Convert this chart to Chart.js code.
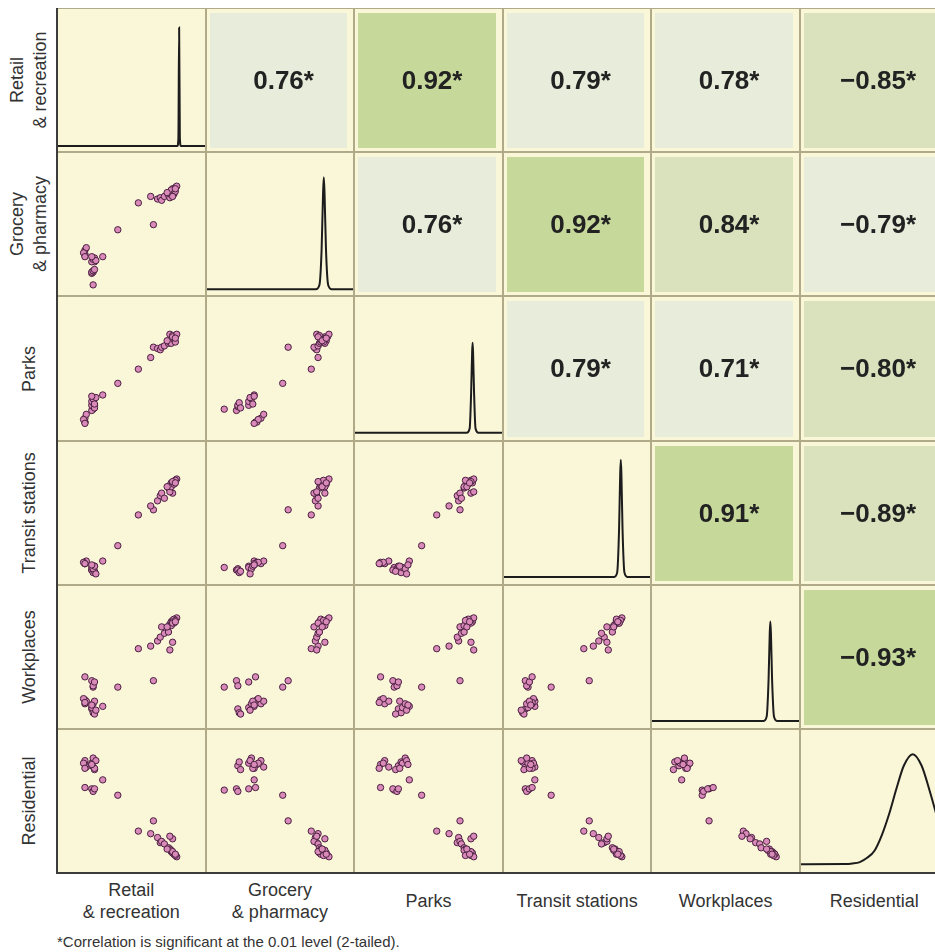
<!DOCTYPE html>
<html>
<head>
<meta charset="utf-8">
<script src="https://cdn.jsdelivr.net/npm/chart.js@4.4.0/dist/chart.umd.min.js"></script>
<style>
  body { margin: 0; background: #fff; overflow: hidden; font-family: "Liberation Sans", Arial, sans-serif; color: #333; }
  #page { position: relative; width: 935px; height: 952px; overflow: hidden; }
  #matrix { position: absolute; left: 57px; top: 8px; width: 892px; height: 866px; }
  .cell { position: absolute; box-sizing: border-box; border: 1px solid #b0aa88; background: #faf6d8; }
  .cell canvas { display: block; }
  .ylab { position: absolute; white-space: pre; text-align: center; font-size: 18px; line-height: 23px;
          transform: translate(-50%, -50%) rotate(-90deg); }
  .xlab { position: absolute; white-space: pre; text-align: center; font-size: 18px; line-height: 22px;
          transform: translate(-50%, -50%); }
  #note { position: absolute; left: 57px; top: 933px; font-size: 15px; }
</style>
</head>
<body>
<div id="page">
  <div id="matrix"></div>
  <div id="note">*Correlation is significant at the 0.01 level (2-tailed).</div>
</div>
<script>
// --- DATA ---
const varLabels = ['Retail\n& recreation', 'Grocery\n& pharmacy', 'Parks', 'Transit stations', 'Workplaces', 'Residential'];

// one value per region, same order in every list (scaled 0..1 within a panel)
const retail      = [0.29,0.40,0.55,0.66,0.64, 0.22,0.21,0.22,0.23,0.16, 0.16,0.16,0.17,0.15,0.16,
                     0.21,0.22,0.23,0.21,0.22,0.23,0.24,0.21,
                     0.69,0.71,0.72,0.74,0.77,0.80,0.78,0.78,0.79,0.80,0.81,0.82,0.80,0.83,0.79,0.81,0.82,0.80,0.76,0.82];
const grocery     = [0.31,0.52,0.73,0.56,0.78, 0.09,0.18,0.19,0.27,0.32, 0.33,0.36,0.38,0.34,0.31,
                     0.19,0.20,0.21,0.27,0.29,0.30,0.28,0.31,
                     0.76,0.77,0.75,0.78,0.79,0.83,0.77,0.80,0.82,0.84,0.81,0.85,0.79,0.86,0.83,0.80,0.82,0.78,0.81,0.84];
const parks       = [0.36,0.45,0.56,0.73,0.65, 0.25,0.24,0.27,0.28,0.15, 0.15,0.18,0.21,0.17,0.14,
                     0.28,0.30,0.26,0.31,0.33,0.29,0.34,0.35,
                     0.72,0.71,0.73,0.74,0.76,0.81,0.83,0.77,0.79,0.78,0.80,0.81,0.82,0.83,0.76,0.79,0.77,0.81,0.78,0.80];
const transit     = [0.19,0.31,0.55,0.59,0.62, 0.14,0.12,0.13,0.15,0.17, 0.18,0.17,0.19,0.18,0.17,
                     0.12,0.10,0.11,0.14,0.13,0.15,0.09,0.16,
                     0.66,0.70,0.72,0.68,0.76,0.72,0.73,0.78,0.80,0.79,0.81,0.82,0.80,0.83,0.77,0.79,0.82,0.81,0.77,0.80];
const workplaces  = [0.18,0.33,0.63,0.38,0.65, 0.33,0.38,0.34,0.37,0.41, 0.23,0.20,0.22,0.24,0.21,
                     0.16,0.13,0.12,0.17,0.20,0.22,0.15,0.19,
                     0.69,0.72,0.80,0.75,0.76,0.68,0.62,0.82,0.84,0.85,0.83,0.86,0.84,0.87,0.81,0.86,0.85,0.83,0.80,0.84];
const residential = [0.73,0.61,0.33,0.41,0.31, 0.65,0.66,0.64,0.66,0.67, 0.85,0.88,0.83,0.86,0.82,
                     0.84,0.87,0.81,0.86,0.90,0.82,0.88,0.85,
                     0.28,0.24,0.25,0.23,0.20,0.27,0.29,0.19,0.17,0.16,0.15,0.14,0.16,0.13,0.18,0.15,0.14,0.17,0.19,0.15];

// density curves on the diagonal (x, height)
const retailDensX = [0, 0.812, 0.819, 0.824, 0.829, 0.836, 1];
const retailDensY = [0.035, 0.035, 0.09, 0.87, 0.09, 0.035, 0.035];
const groceryDensX = [0, 0.745, 0.77, 0.785, 0.795, 0.80, 0.805, 0.815, 0.83, 0.855, 1];
const groceryDensY = [0.04, 0.04, 0.07, 0.32, 0.72, 0.83, 0.72, 0.32, 0.07, 0.04, 0.04];
const parksDensX = [0, 0.76, 0.78, 0.79, 0.797, 0.80, 0.803, 0.81, 0.82, 0.84, 1];
const parksDensY = [0.05, 0.05, 0.08, 0.33, 0.62, 0.68, 0.62, 0.33, 0.08, 0.05, 0.05];
const transitDensX = [0, 0.755, 0.775, 0.788, 0.796, 0.80, 0.804, 0.812, 0.825, 0.845, 1];
const transitDensY = [0.05, 0.05, 0.08, 0.38, 0.78, 0.875, 0.78, 0.38, 0.08, 0.05, 0.05];
const workDensX = [0, 0.76, 0.78, 0.793, 0.801, 0.805, 0.809, 0.817, 0.83, 0.85, 1];
const workDensY = [0.05, 0.05, 0.08, 0.34, 0.67, 0.75, 0.67, 0.34, 0.08, 0.05, 0.05];
const resDensX = [0, 0.30, 0.35, 0.40, 0.45, 0.50, 0.55, 0.60, 0.65, 0.70, 0.76, 0.82, 0.88, 0.94, 1];
const resDensY = [0.055, 0.056, 0.06, 0.07, 0.10, 0.15, 0.26, 0.41, 0.59, 0.75, 0.83, 0.75, 0.555, 0.34, 0.19];

// upper triangle: Pearson r
const corrRows = [
  [null, 0.76, 0.92, 0.79, 0.78, -0.85],
  [null, null, 0.76, 0.92, 0.84, -0.79],
  [null, null, null, 0.79, 0.71, -0.80],
  [null, null, null, null, 0.91, -0.89],
  [null, null, null, null, null, -0.93]
];

const variables = [retail, grocery, parks, transit, workplaces, residential];
const densities = [
  [retailDensX, retailDensY], [groceryDensX, groceryDensY], [parksDensX, parksDensY],
  [transitDensX, transitDensY], [workDensX, workDensY], [resDensX, resDensY]
];

// --- LAYOUT ---
const LEFT = 57, TOP = 8, CELL_W = 148.6, CELL_H = 144.2;
const FONT = '"Liberation Sans", Arial, sans-serif';

Chart.defaults.animation = false;
Chart.defaults.responsive = false;
Chart.defaults.devicePixelRatio = 1;
Chart.defaults.events = [];
Chart.defaults.plugins.legend.display = false;
Chart.defaults.plugins.tooltip.enabled = false;

function corrColor(v) {
  const a = Math.abs(v);
  if (a >= 0.9) return '#c6d99b';
  if (a >= 0.8) return '#d9e2bd';
  return '#e8ecda';
}

const corrText = {
  id: 'corrText',
  afterDatasetsDraw(chart, args, opts) {
    const { ctx, chartArea } = chart;
    const cx = (chartArea.left + chartArea.right) / 2;
    const cy = (chartArea.top + chartArea.bottom) / 2 + 1;
    ctx.save();
    ctx.font = 'bold 26px ' + FONT;
    ctx.fillStyle = '#222';
    ctx.textBaseline = 'middle';
    ctx.textAlign = 'left';
    const w = ctx.measureText(opts.text).width;
    ctx.fillText(opts.text, cx - w / 2, cy);
    ctx.fillText('*', cx + w / 2, cy);
    ctx.restore();
  }
};

const matrix = document.getElementById('matrix');
const page = document.getElementById('page');

for (let r = 0; r < 6; r++) {
  for (let c = 0; c < 6; c++) {
    const x0 = Math.round(c * CELL_W), x1 = Math.round((c + 1) * CELL_W);
    const y0 = Math.round(r * CELL_H), y1 = Math.round((r + 1) * CELL_H);
    const div = document.createElement('div');
    div.className = 'cell';
    div.style.left = x0 + 'px';
    div.style.top = y0 + 'px';
    div.style.width = (x1 - x0) + 'px';
    div.style.height = (y1 - y0) + 'px';
    const canvas = document.createElement('canvas');
    canvas.width = x1 - x0 - 2;
    canvas.height = y1 - y0 - 2;
    div.appendChild(canvas);
    matrix.appendChild(div);

    if (r > c) {
      // scatter: x = column variable, y = row variable
      const xs = variables[c], ys = variables[r];
      new Chart(canvas, {
        type: 'scatter',
        data: { datasets: [{
          data: xs.map((v, i) => ({ x: v, y: ys[i] })),
          backgroundColor: '#d98ab9',
          borderColor: '#4a2040',
          borderWidth: 1,
          pointRadius: 3.2
        }]},
        options: {
          layout: { padding: 0 },
          scales: {
            x: { type: 'linear', min: 0, max: 1, display: false },
            y: { type: 'linear', min: 0.05, max: 1.08, display: false }
          }
        }
      });
    } else if (r === c) {
      const [dx, dy] = densities[r];
      new Chart(canvas, {
        type: 'line',
        data: { datasets: [{
          data: dx.map((v, i) => ({ x: v, y: dy[i] })),
          borderColor: '#1c1c1c',
          borderWidth: 2,
          pointRadius: 0,
          fill: false,
          cubicInterpolationMode: 'monotone'
        }]},
        options: {
          layout: { padding: 0 },
          scales: {
            x: { type: 'linear', min: 0, max: 1, display: false },
            y: { min: 0, max: 1, display: false }
          }
        }
      });
    } else {
      const v = corrRows[r][c];
      new Chart(canvas, {
        type: 'bar',
        data: { labels: ['r'], datasets: [{
          data: [1],
          backgroundColor: corrColor(v),
          barPercentage: 1,
          categoryPercentage: 1
        }]},
        options: {
          layout: { padding: { left: 3, right: 6, top: 4, bottom: 3 } },
          scales: {
            x: { display: false },
            y: { min: 0, max: 1, display: false }
          },
          plugins: { corrText: { text: (v < 0 ? '\u2212' : '') + Math.abs(v).toFixed(2) } }
        },
        plugins: [corrText]
      });
    }
  }
}

// dark axis lines on the left and bottom of the matrix
const leftLine = document.createElement('div');
leftLine.style.cssText = 'position:absolute;left:56px;top:8px;width:2px;height:866px;background:#3c3c3c';
page.appendChild(leftLine);
const bottomLine = document.createElement('div');
bottomLine.style.cssText = 'position:absolute;left:56px;top:872px;width:900px;height:2px;background:#3c3c3c';
page.appendChild(bottomLine);

// variable labels
varLabels.forEach((lab, i) => {
  const y = document.createElement('div');
  y.className = 'ylab';
  y.textContent = lab;
  y.style.left = '29px';
  y.style.top = (TOP + (i + 0.5) * CELL_H) + 'px';
  page.appendChild(y);

  const x = document.createElement('div');
  x.className = 'xlab';
  x.textContent = lab;
  x.style.left = (LEFT + (i + 0.5) * CELL_W) + 'px';
  x.style.top = '901px';
  page.appendChild(x);
});
</script>
</body>
</html>
